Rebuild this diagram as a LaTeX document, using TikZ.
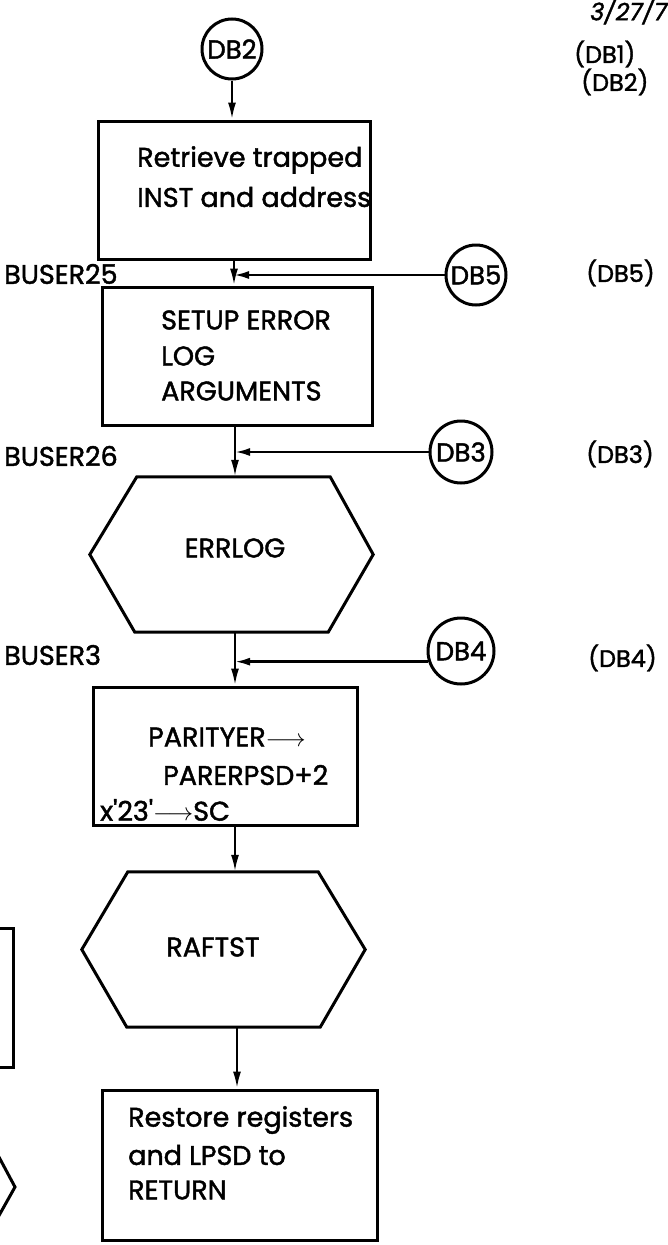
\documentclass[tikz,border=0pt]{standalone}
\usepackage{fontspec}
\setmainfont{Poppins}[FakeBold=1.6]
\usetikzlibrary{arrows.meta}
\newcommand{\txt}{\fontsize{27}{36}\selectfont}
\newcommand{\ctxt}{\fontsize{26}{30}\selectfont}
\newcommand{\rtxt}{\fontsize{24}{30}\selectfont}
\newcommand{\rarr}{\ensuremath{\longrightarrow}}
\tikzset{
  box/.style={draw, line width=3pt, inner sep=0pt},
  hexa/.style={line width=3pt, line join=miter},
  conn/.style={line width=2.4pt},
  arr/.style={conn, -{Latex[length=17pt,width=8pt]}},
  larr/.style={conn, -{Latex[length=15pt,width=8pt]}},
  conncirc/.style={draw, circle, line width=3pt, minimum size=60pt, inner sep=0pt, font=\ctxt},
  lbl/.style={anchor=west, inner sep=0pt, font=\txt},
  lblc/.style={inner sep=0pt, font=\txt},
  rlbl/.style={anchor=west, inner sep=0pt, font=\rtxt},
}
\begin{document}
\begin{tikzpicture}[x=1pt,y=-1pt]
\path[use as bounding box, clip] (0,0) rectangle (668,1245);

% connector circles
\node[conncirc] (db2) at (232,49) {DB2};
\node[conncirc] (db5) at (476,275) {DB5};
\node[conncirc, minimum size=62pt] (db3) at (461,452) {DB3};
\node[conncirc, minimum size=66pt] (db4) at (461,651) {DB4};

% boxes
\node[box, minimum width=272pt, minimum height=138pt] (b1) at (234,190) {};
\node[box, minimum width=270pt, minimum height=138pt] (b2) at (237,356) {};
\node[box, minimum width=264pt, minimum height=138pt] (b3) at (225,756) {};
\node[box, minimum width=275pt, minimum height=150pt] (b4) at (239.5,1165) {};

% hexagon anchors (invisible nodes)
\node[minimum width=283pt, minimum height=155pt, inner sep=0pt] (h1) at (231.5,554.5) {};
\node[minimum width=283pt, minimum height=155pt, inner sep=0pt] (h2) at (223.5,949.5) {};
\draw[hexa] (h1.west) -- ([xshift=47pt]h1.north west) -- ([xshift=-43pt]h1.north east)
  -- (h1.east) -- ([xshift=-45pt]h1.south east) -- ([xshift=45pt]h1.south west) -- cycle;
\draw[hexa] (h2.west) -- ([xshift=46pt]h2.north west) -- ([xshift=-47pt]h2.north east)
  -- (h2.east) -- ([xshift=-45pt]h2.south east) -- ([xshift=45pt]h2.south west) -- cycle;

% partial shapes at the left edge
\draw[line width=3pt] (-10,928) -- (13,928) -- (13,1067) -- (-10,1067);
\draw[line width=3pt] (-8,1144) -- (15,1187) -- (-8,1228);

% texts in the boxes
\node[lbl] (t1a) at (137,160) {Retrieve trapped};
\node[lbl] (t1b) at (137,197) {INST and address};
\node[lbl] (t2a) at (161,320) {SETUP ERROR};
\node[lbl] (t2b) at (161,356) {LOG};
\node[lbl] (t2c) at (161,391) {ARGUMENTS};
\node[lblc] (t3) at (235,548) {ERRLOG};
\node[lbl] (t4a) at (148,737) {PARITYER\rarr};
\node[lbl] (t4b) at (163,775) {PARERPSD+2};
\node[lbl] (t4c) at (100,810) {x\textquotesingle 23\textquotesingle\rarr SC};
\node[lblc] (t5) at (213,947) {RAFTST};
\node[lbl] (t6a) at (128,1120) {Restore registers};
\node[lbl] (t6b) at (128,1155) {and LPSD to};
\node[lbl] (t6c) at (128,1190) {RETURN};

% entry labels
\node[lbl] (e1) at (4,274) {BUSER25};
\node[lbl] (e2) at (4,456) {BUSER26};
\node[lbl] (e3) at (4,655) {BUSER3};

% right-hand column
\node[rlbl, font=\rtxt\itshape] (date) at (590,11) {3/27/77};
\node[rlbl] (r1) at (574,54) {(DB1)};
\node[rlbl] (r2) at (581,82) {(DB2)};
\node[rlbl] (r5) at (586,273) {(DB5)};
\node[rlbl] (r3) at (586,454) {(DB3)};
\node[rlbl] (r4) at (588,658) {(DB4)};

% junction points on the main line
\coordinate (j1) at (234,275);
\coordinate (j2) at (235,452);
\coordinate (j3) at (235,662);

% main flow
\draw[arr] (db2.south) -- (b1.north -| db2.south);
\draw[arr] (b1.south -| j1) -- (b2.north -| j1);
\draw[arr] (b2.south -| j2) -- (h1.north -| j2);
\draw[arr] (h1.south -| j3) -- (b3.north -| j3);
\draw[arr] (b3.south -| j3) -- (h2.north -| j3);
\draw[arr] ([xshift=2pt]h2.south -| j3) -- ([xshift=2pt]b4.north -| j3);

% off-page entries
\draw[larr] (db5.west) -- (db5.west -| j1);
\draw[larr] (db3.west) -- (db3.west -| j2);
\draw[larr] (db4.198) -- (db4.198 -| j3);
\end{tikzpicture}
\end{document}
